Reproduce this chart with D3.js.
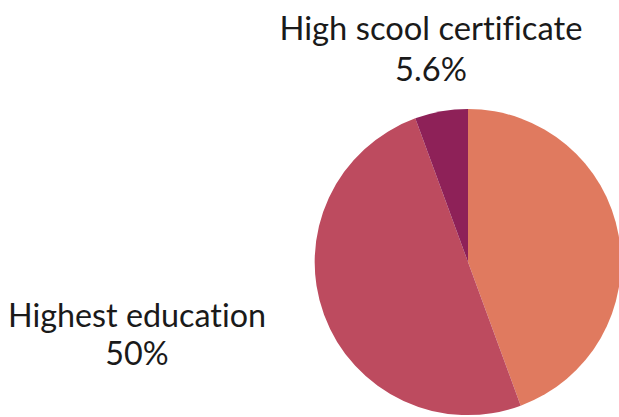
<!DOCTYPE html>
<html>
<head>
<meta charset="utf-8">
<script src="https://cdn.jsdelivr.net/npm/d3@7"></script>
<style>
  html, body { margin: 0; padding: 0; background: #fff; overflow: hidden; }
  svg { display: block; }
  text {
    font-family: "Lato", "Open Sans", sans-serif;
    font-weight: 400;
    fill: #1a1a1a;
    font-variant-ligatures: none;
    font-feature-settings: "liga" 0, "clig" 0;
  }
</style>
</head>
<body>
<svg id="chart" width="619" height="417"></svg>
<script>
// Share of respondents by education level
const categories = ["Other", "Highest education", "High scool certificate"];
const values = [44.4, 50, 5.6];
const valueLabels = ["44.4%", "50%", "5.6%"];
const colors = ["#E07A5F", "#BD4B5F", "#8E2158"];

const width = 619, height = 417;
const cx = 468, cy = 262, radius = 153;

const svg = d3.select("#chart");

const pie = d3.pie().sort(null).value(d => d.value);
const arc = d3.arc().innerRadius(0).outerRadius(radius);

const data = categories.map((c, i) => ({ name: c, value: values[i], label: valueLabels[i], color: colors[i] }));
const arcs = pie(data);

const g = svg.append("g").attr("transform", `translate(${cx},${cy})`);
g.selectAll("path")
  .data(arcs)
  .join("path")
  .attr("d", arc)
  .attr("fill", d => d.data.color);

// Outside labels for the two named slices
const labelPos = {
  "High scool certificate": { x: 431, y1: 40, y2: 81, w: 303 },
  "Highest education": { x: 137, y1: 327, y2: 365, w: 258 }
};

arcs.forEach(a => {
  const p = labelPos[a.data.name];
  if (!p) return;
  const t1 = svg.append("text")
    .attr("x", p.x).attr("y", p.y1)
    .attr("text-anchor", "middle")
    .style("font-size", "30px")
    .text(a.data.name);
  // scale font so the name spans the intended width
  const len = t1.node().getComputedTextLength();
  const fs = 30 * p.w / len;
  t1.style("font-size", fs + "px");
  svg.append("text")
    .attr("x", p.x).attr("y", p.y2)
    .attr("text-anchor", "middle")
    .style("font-size", fs + "px")
    .text(a.data.label);
});
</script>
</body>
</html>
